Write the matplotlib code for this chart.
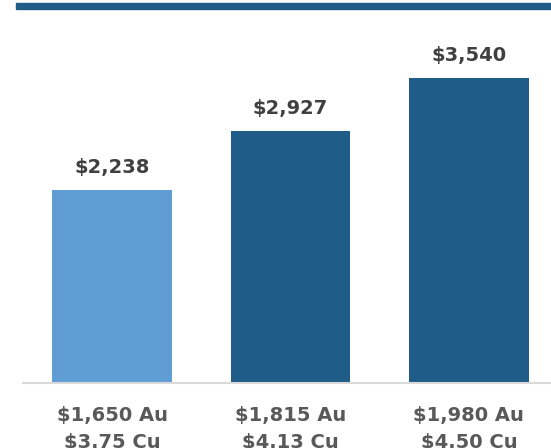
import matplotlib
matplotlib.use("Agg")
import matplotlib.pyplot as plt
from matplotlib.patches import Rectangle

au_labels = ["$1,650 Au", "$1,815 Au", "$1,980 Au"]
cu_labels = ["$3.75 Cu", "$4.13 Cu", "$4.50 Cu"]
values = [2238, 2927, 3540]
value_labels = ["$2,238", "$2,927", "$3,540"]
colors = ["#5F9ED4", "#1F5C87", "#1F5C87"]

W, H = 551, 448
fig = plt.figure(figsize=(W / 100, H / 100), dpi=100)
plt.rcParams['font.family'] = ['DejaVu Sans']

PT = 72 / 100  # points per pixel
ymax = 4000
px_per_unit = 305 / 3540
ax = fig.add_axes([23 / W, 65 / H, (558 - 23) / W, ymax * px_per_unit / H])
x = list(range(len(values)))
ax.bar(x, values, width=0.67, color=colors, zorder=2)
ax.set_xlim(-0.5, 2.5)
ax.set_ylim(0, ymax)
for s in ["top", "right", "left"]:
    ax.spines[s].set_visible(False)
ax.spines["bottom"].set_color("#D9D9D9")
ax.spines["bottom"].set_linewidth(1.5)
ax.set_yticks([])
ax.set_xticks(x)
ax.set_xticklabels([])
ax.tick_params(axis="x", length=0)

for xi, v, lab in zip(x, values, value_labels):
    ax.annotate(lab, (xi, v), xytext=(0, 17 * PT), textcoords="offset points",
                ha="center", va="baseline", fontsize=14, fontweight="bold",
                color="#404040")

for xi, a, c in zip(x, au_labels, cu_labels):
    ax.annotate(a, (xi, 0), xycoords=("data", "axes fraction"),
                xytext=(0, -38 * PT), textcoords="offset points",
                ha="center", va="baseline", fontsize=14, fontweight="bold",
                color="#595959", annotation_clip=False)
    ax.annotate(c, (xi, 0), xycoords=("data", "axes fraction"),
                xytext=(0, -65 * PT), textcoords="offset points",
                ha="center", va="baseline", fontsize=14, fontweight="bold",
                color="#595959", annotation_clip=False)

fig.patches.append(Rectangle((16 / W, 1 - 9 / H), 1 - 16 / W, 6 / H,
                             transform=fig.transFigure, color="#1F5C87"))

fig.savefig("out.png", dpi=100)
